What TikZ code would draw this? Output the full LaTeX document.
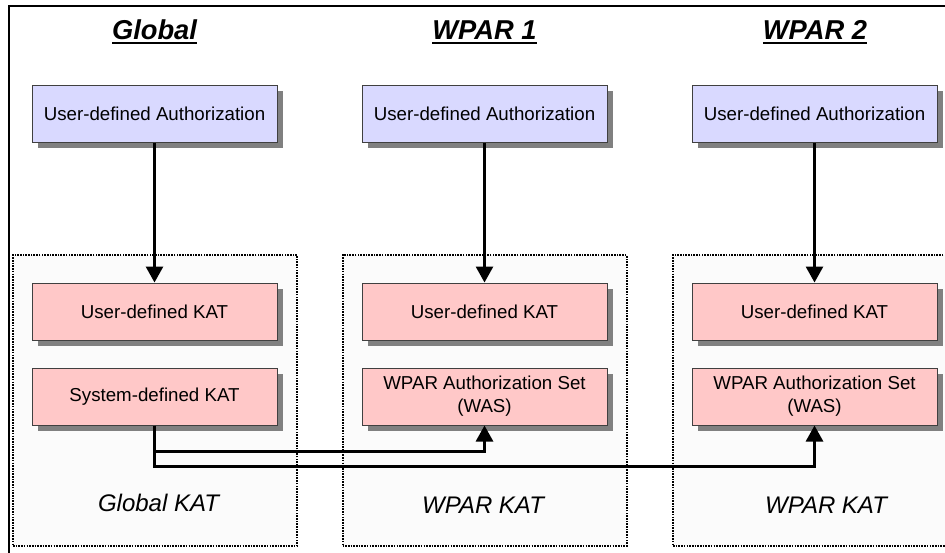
\documentclass[tikz,border=0pt]{standalone}
\usepackage{fontspec}
\setmainfont{Liberation Sans}
\usepackage{tikz}
\usetikzlibrary{arrows.meta, shadows}
\usepackage{xcolor}
\definecolor{authblue}{RGB}{217,217,255}
\definecolor{katpink}{RGB}{255,200,200}
\newcommand{\undertitle}[1]{\vtop{\hbox{#1}\kern2.5pt\hrule height 2pt}}

\begin{document}
\begin{tikzpicture}[x=1pt, y=-1pt,
  auth/.style={rectangle, draw=black!75, line width=1pt, fill=authblue,
               minimum width=245pt, minimum height=57pt,
               align=center, font=\fontsize{18.7}{23}\selectfont,
               drop shadow={shadow xshift=6pt, shadow yshift=-6pt,
                            fill=black!50, opacity=1}},
  kat/.style={auth, fill=katpink},
  frame/.style={rectangle, draw, line width=2pt,
                dash pattern=on 1.6pt off 1.1pt, fill=gray!3,
                minimum width=284pt, minimum height=291pt},
  title/.style={anchor=base, font=\fontsize{27.3}{32}\selectfont\bfseries\itshape},
  lbl/.style={font=\fontsize{24}{28}\selectfont\itshape},
  arr/.style={-{Triangle[length=16pt, width=17pt]}, line width=2.8pt},
]
  \useasboundingbox (0,0) rectangle (945,552);
  \clip (0,0) rectangle (945,552);
  \draw[line width=1.5pt] (9,560) -- (9,6) -- (960,6);

  \node[frame] (gframe)  at (155,   400.5) {};
  \node[frame] (wframe1) at (484.5, 400.5) {};
  \node[frame] (wframe2) at (815,   400.5) {};

  \node[title] (gtitle)  at (154.5, 39) {\undertitle{Global}};
  \node[title] (wtitle1) at (484.5, 39) {\undertitle{WPAR 1}};
  \node[title] (wtitle2) at (815,   39) {\undertitle{WPAR 2}};

  \node[auth] (gauth)  at (154.5, 113.5) {User-defined Authorization};
  \node[auth] (wauth1) at (484.5, 113.5) {User-defined Authorization};
  \node[auth] (wauth2) at (814.5, 113.5) {User-defined Authorization};

  \node[kat] (gukat)  at (154.5, 311.5) {User-defined KAT};
  \node[kat] (gskat)  at (154.5, 396.5) {System-defined KAT};
  \node[kat] (wukat1) at (484.5, 311.5) {User-defined KAT};
  \node[kat] (was1)   at (484.5, 396.5) {WPAR Authorization Set\\(WAS)};
  \node[kat] (wukat2) at (814.5, 311.5) {User-defined KAT};
  \node[kat] (was2)   at (814.5, 396.5) {WPAR Authorization Set\\(WAS)};

  \node[lbl] (glbl)  at (158.5, 503) {Global KAT};
  \node[lbl] (wlbl1) at (483,   505) {WPAR KAT};
  \node[lbl] (wlbl2) at (826,   505) {WPAR KAT};

  \draw[arr] (gauth.south)  -- (gukat.north);
  \draw[arr] (wauth1.south) -- (wukat1.north);
  \draw[arr] (wauth2.south) -- (wukat2.north);
  \draw[arr] (gskat.south) -- ++(0,26) -| (was1.south);
  \draw[arr] (gskat.south) -- ++(0,41) -| (was2.south);
\end{tikzpicture}
\end{document}
